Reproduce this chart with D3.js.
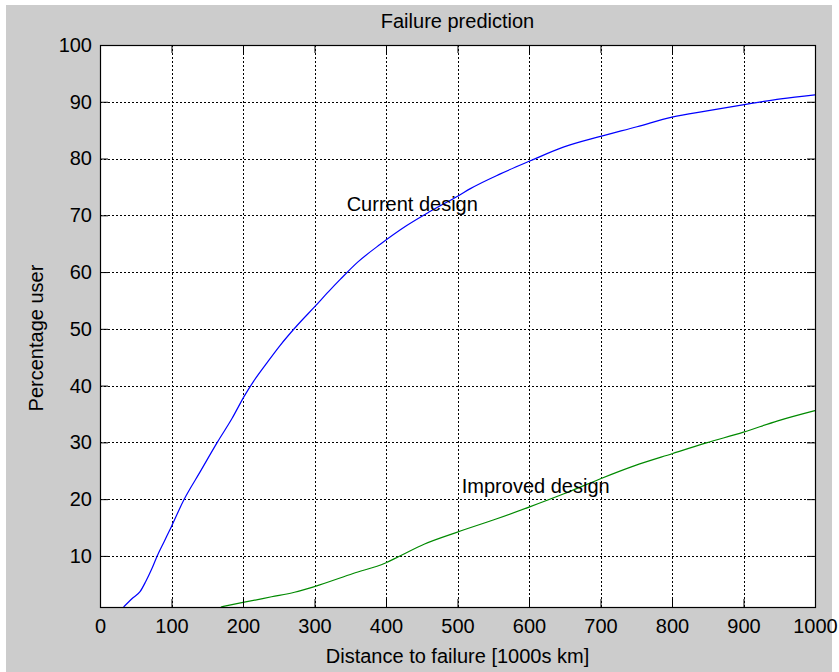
<!DOCTYPE html>
<html>
<head>
<meta charset="utf-8">
<script src="https://cdn.jsdelivr.net/npm/d3@7"></script>
<style>
  body { margin: 0; background: #fff; }
  text { font-family: "Liberation Sans", Arial, sans-serif; fill: #000; }
</style>
</head>
<body>
<div id="chart"></div>
<script>
// values
var xCurrent = [33, 45, 56, 64, 72, 80, 90, 100, 117, 140, 164, 185, 202, 215, 234, 252, 275, 301, 320, 336, 360, 392, 429, 462, 502, 518, 560, 602, 648, 700, 751, 800, 849, 901, 952, 1000];
var yCurrent = [1, 2.5, 3.7, 5.5, 7.6, 10, 12.6, 15.2, 19.8, 24.8, 30, 34.3, 38.2, 40.8, 44.1, 47.1, 50.5, 54, 56.6, 58.7, 61.7, 64.9, 68.2, 70.7, 73.5, 74.7, 77.3, 79.6, 82, 83.9, 85.6, 87.3, 88.4, 89.5, 90.5, 91.2];

var xImproved = [169, 200, 240, 272, 300, 354, 400, 418, 454, 500, 554, 600, 648, 700, 748, 800, 848, 900, 948, 1000];
var yImproved = [1, 1.8, 2.8, 3.6, 4.6, 6.9, 8.8, 9.9, 12.1, 14.2, 16.5, 18.6, 20.9, 23.6, 25.9, 28, 29.9, 31.8, 33.8, 35.6];

var xTicks = [0, 100, 200, 300, 400, 500, 600, 700, 800, 900, 1000];
var yTicks = [10, 20, 30, 40, 50, 60, 70, 80, 90, 100];

var notes = [
  {text: "Current design", x: 345, y: 72},
  {text: "Improved design", x: 506, y: 22.3}
];

var W = 839, H = 672;
// plot box (don't call it "top", window.top is read-only)
var pLeft = 100, pRight = 815, pTop = 45, pBottom = 607;

var svg = d3.select("#chart").append("svg").attr("width", W).attr("height", H);

// figure background
svg.append("rect").attr("x", 6).attr("y", 5).attr("width", 826).attr("height", H - 5).attr("fill", "#cccccc");

var x = d3.scaleLinear().domain([0, 1000]).range([pLeft, pRight]);
var y = d3.scaleLinear().domain([1, 100]).range([pBottom, pTop]);

svg.append("rect")
  .attr("x", pLeft).attr("y", pTop)
  .attr("width", pRight - pLeft).attr("height", pBottom - pTop)
  .attr("fill", "#fff");

// dotted grid
var grid = svg.append("g").attr("stroke", "#000").attr("stroke-width", 1).attr("stroke-dasharray", "2,2");
grid.selectAll("line.vx")
  .data(xTicks.filter(function(d) { return d > 0 && d < 1000; }))
  .enter().append("line")
  .attr("x1", function(d) { return Math.round(x(d)) + 0.5; })
  .attr("x2", function(d) { return Math.round(x(d)) + 0.5; })
  .attr("y1", pTop).attr("y2", pBottom);
grid.selectAll("line.hy")
  .data(yTicks.filter(function(d) { return d < 100; }))
  .enter().append("line")
  .attr("y1", function(d) { return Math.round(y(d)) + 0.5; })
  .attr("y2", function(d) { return Math.round(y(d)) + 0.5; })
  .attr("x1", pLeft).attr("x2", pRight);

// curves
var line = d3.line()
  .curve(d3.curveMonotoneX)
  .x(function(d) { return x(d[0]); })
  .y(function(d) { return y(d[1]); });

svg.append("path")
  .datum(d3.zip(xCurrent, yCurrent))
  .attr("d", line)
  .attr("fill", "none").attr("stroke", "#0000ff").attr("stroke-width", 1.2);

svg.append("path")
  .datum(d3.zip(xImproved, yImproved))
  .attr("d", line)
  .attr("fill", "none").attr("stroke", "#008a00").attr("stroke-width", 1.2);

// axes, ticks pointing inward
function styleAxis(g) {
  g.select(".domain").remove();
  g.selectAll(".tick line").attr("stroke", "#000");
  g.selectAll(".tick text").style("font-size", "20px").attr("fill", "#000");
}

svg.append("g").attr("transform", "translate(0," + pBottom + ")")
  .call(d3.axisBottom(x).tickValues(xTicks).tickSize(-8).tickPadding(12).tickFormat(d3.format("d")))
  .call(styleAxis);
svg.append("g").attr("transform", "translate(" + pLeft + ",0)")
  .call(d3.axisLeft(y).tickValues(yTicks).tickSize(-8).tickPadding(8).tickFormat(d3.format("d")))
  .call(styleAxis);
svg.append("g").attr("transform", "translate(0," + pTop + ")")
  .call(d3.axisTop(x).tickValues(xTicks).tickSize(-8).tickFormat(""))
  .call(styleAxis);
svg.append("g").attr("transform", "translate(" + pRight + ",0)")
  .call(d3.axisRight(y).tickValues(yTicks).tickSize(-8).tickFormat(""))
  .call(styleAxis);

// box
svg.append("rect")
  .attr("x", pLeft + 0.5).attr("y", pTop + 0.5)
  .attr("width", pRight - pLeft).attr("height", pBottom - pTop)
  .attr("fill", "none").attr("stroke", "#000").attr("stroke-width", 1.2);

// annotations
svg.selectAll("text.note")
  .data(notes)
  .enter().append("text")
  .attr("class", "note")
  .attr("x", function(d) { return x(d.x); })
  .attr("y", function(d) { return y(d.y); })
  .attr("dy", "0.35em")
  .style("font-size", "20px")
  .text(function(d) { return d.text; });

// titles
svg.append("text")
  .attr("x", (pLeft + pRight) / 2).attr("y", 28)
  .attr("text-anchor", "middle").style("font-size", "20px")
  .text("Failure prediction");

svg.append("text")
  .attr("x", (pLeft + pRight) / 2).attr("y", 663)
  .attr("text-anchor", "middle").style("font-size", "20px")
  .text("Distance to failure [1000s km]");

svg.append("text")
  .attr("transform", "translate(43,338) rotate(-90)")
  .attr("text-anchor", "middle").style("font-size", "20px")
  .text("Percentage user");
</script>
</body>
</html>
